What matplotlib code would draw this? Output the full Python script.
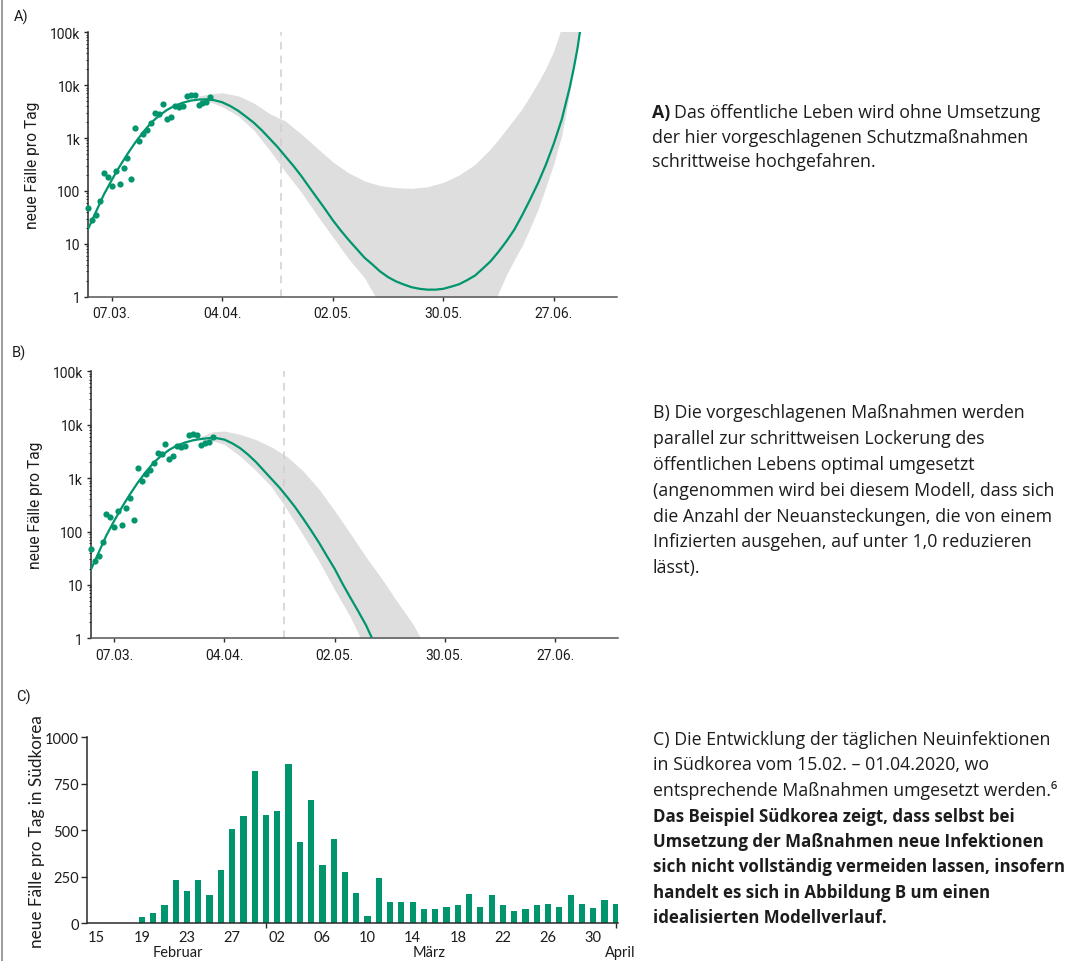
import matplotlib
matplotlib.use("Agg")
import matplotlib.pyplot as plt
from matplotlib.lines import Line2D
from matplotlib.ticker import FixedLocator, NullFormatter

# day 0 = 01.03.2020 (panels A and B)
date_ticks = [6, 34, 62, 90, 118]
date_labels = ["07.03.", "04.04.", "02.05.", "30.05.", "27.06."]
log_ticks = [1, 10, 100, 1000, 10000, 100000]
log_labels = ["1", "10", "100", "1k", "10k", "100k"]
lockdown_end = 49

obs_days = list(range(32))
obs_cases = [48, 28, 35, 64, 215, 183, 124, 238, 133, 272, 420, 166, 1557, 883,
             1180, 1426, 1909, 2952, 2826, 4315, 2274, 2553, 4067, 3784, 4067,
             6295, 6576, 6486, 4188, 4508, 4707, 5852]

fit_a_days = [0, 2, 4, 6, 8, 10, 12, 14, 16, 18, 20, 22, 24, 26, 28, 30, 32, 34,
              36, 38, 40, 42, 44, 46, 48, 50, 52, 54, 56, 58, 60, 62, 64, 66, 68,
              70, 72, 74, 76, 78, 80, 82, 84, 86, 88, 90, 92, 94, 96, 98, 100,
              102, 104, 106, 108, 110, 112, 114, 116, 118, 120, 122, 123, 124,
              124.6]
fit_a_cases = [19, 40, 85, 160, 290, 500, 830, 1300, 1950, 2650, 3400, 4100,
               4650, 5100, 5350, 5400, 5200, 4750, 4050, 3300, 2550, 1950, 1410,
               980, 680, 450, 300, 193, 119, 74, 46, 28, 18, 11.9, 8.1, 5.5, 4.1,
               3.0, 2.35, 1.95, 1.7, 1.51, 1.41, 1.36, 1.36, 1.41, 1.55, 1.72,
               2.05, 2.5, 3.4, 4.7, 7.1, 11.2, 18.6, 35, 69, 141, 316, 790, 2240,
               8900, 20000, 50000, 100000]

band_a_days = [28, 31, 34, 38, 42, 46, 50, 54, 58, 62, 66, 70, 74, 78, 82, 86, 90,
               94, 98, 102, 104, 106, 108, 110, 112, 114, 116, 118, 120, 122, 124,
               126]
band_a_high = [6200, 6900, 7200, 6300, 4600, 2900, 2100, 1200, 650, 355, 220, 155,
               126, 115, 112, 120, 145, 200, 316, 630, 950, 1480, 2300, 3630,
               6300, 11200, 21000, 44700, 126000, 400000, 1e6, 2.5e6]
band_a_low = [5200, 4800, 3900, 2630, 1410, 590, 230, 95, 35, 13.5, 5.2, 2.3, 0.7,
              0.1, 0.1, 0.1, 0.1, 0.1, 0.1, 0.5, 1.2, 2.6, 5.0, 9.3, 20, 45, 120,
              330, 1120, 7100, 56000, 400000]

fit_b_days = [0, 2, 4, 6, 8, 10, 12, 14, 16, 18, 20, 22, 24, 26, 28, 30, 32, 34,
              36, 38, 40, 42, 44, 46, 48, 50, 52, 54, 56, 58, 60, 62, 64, 66, 68,
              70, 72]
fit_b_cases = [19, 40, 85, 160, 290, 500, 830, 1300, 1950, 2650, 3400, 4100,
               4650, 5100, 5400, 5600, 5600, 5250, 4470, 3630, 2750, 2000, 1380,
               955, 660, 437, 282, 174, 105, 62, 35, 20, 10.5, 5.75, 3.2, 1.74,
               0.83]

band_b_days = [28, 31, 34, 38, 42, 46, 50, 54, 58, 62, 66, 70, 74, 78, 82, 86]
band_b_high = [6000, 7400, 7600, 6600, 5250, 3800, 2500, 1350, 620, 245, 91, 33,
               13, 4.7, 1.8, 0.5]
band_b_low = [5000, 5000, 4260, 2570, 1380, 680, 250, 85, 28, 8.1, 2.5, 0.6, 0.1,
              0.1, 0.1, 0.1]

# panel C: 15.02. - 01.04.2020, South Korea
kr_cases = [0, 0, 0, 0, 32, 56, 99, 231, 172, 231, 151, 289, 509, 575, 817,
            582, 604, 855, 435, 663, 312, 452, 274, 165, 38, 244, 113, 113, 113,
            75, 75, 90, 99, 158, 90, 151, 99, 68, 75, 99, 106, 90, 151, 106, 82,
            127, 106]
kr_day_labels = ["15", "19", "23", "27", "02", "06", "10", "14", "18", "22",
                 "26", "30"]
kr_months = ["Februar", "März", "April"]
kr_yticks = [0, 250, 500, 750, 1000]

text_a = ["Das öffentliche Leben wird ohne Umsetzung",
          "der hier vorgeschlagenen Schutzmaßnahmen",
          "schrittweise hochgefahren."]
text_b = ["B) Die vorgeschlagenen Maßnahmen werden",
          "parallel zur schrittweisen Lockerung des",
          "öffentlichen Lebens optimal umgesetzt",
          "(angenommen wird bei diesem Modell, dass sich",
          "die Anzahl der Neuansteckungen, die von einem",
          "Infizierten ausgehen, auf unter 1,0 reduzieren",
          "lässt)."]
text_c_regular = ["C) Die Entwicklung der täglichen Neuinfektionen",
                  "in Südkorea vom 15.02. – 01.04.2020, wo",
                  "entsprechende Maßnahmen umgesetzt werden.⁶"]
text_c_bold = ["Das Beispiel Südkorea zeigt, dass selbst bei",
               "Umsetzung der Maßnahmen neue Infektionen",
               "sich nicht vollständig vermeiden lassen, insofern",
               "handelt es sich in Abbildung B um einen",
               "idealisierten Modellverlauf."]

GREEN = "#00956d"
BAND = "#dedede"
INK = "#1c1c1c"
W, H = 1069, 962

fig = plt.figure(figsize=(W / 100, H / 100), dpi=100)


def rect(left, right, top, bottom):
    return [left / W, 1 - bottom / H, (right - left) / W, (bottom - top) / H]


def model_panel(box, fit_days, fit_cases, band_days, band_high, band_low):
    ax = fig.add_axes(rect(*box))
    ax.fill_between(band_days, band_low, band_high, color=BAND, lw=0, zorder=1)
    ax.axvline(lockdown_end, color="#cfcfcf", lw=1.1, ls=(0, (5, 4)), zorder=2)
    ax.plot(fit_days, fit_cases, color=GREEN, lw=1.6, zorder=3)
    ax.scatter(obs_days, obs_cases, s=20, color=GREEN, lw=0, zorder=4,
               clip_on=False)
    ax.set_yscale("log")
    ax.set_ylim(1, 1e5)
    ax.set_xlim(0, 134)
    ax.yaxis.set_major_locator(FixedLocator(log_ticks))
    ax.set_yticklabels(log_labels)
    ax.yaxis.set_minor_locator(FixedLocator(
        [m * 10 ** e for e in range(5) for m in range(2, 10)]))
    ax.yaxis.set_minor_formatter(NullFormatter())
    ax.set_xticks(date_ticks)
    ax.set_xticklabels(date_labels)
    for s in ("top", "right"):
        ax.spines[s].set_visible(False)
    ax.spines["left"].set_color("#2a2a2a")
    ax.spines["left"].set_linewidth(1.1)
    ax.spines["bottom"].set_color("#555555")
    ax.spines["bottom"].set_linewidth(1.1)
    ax.tick_params(axis="y", which="major", length=3, width=1, pad=2.5,
                   labelsize=10, colors="#2a2a2a")
    ax.tick_params(axis="y", which="minor", length=1.6, width=0.7,
                   colors="#2a2a2a")
    ax.tick_params(axis="x", length=3, width=1, pad=4, labelsize=10,
                   colors="#2a2a2a")
    for lab in ax.get_xticklabels() + ax.get_yticklabels():
        lab.set_fontfamily("Roboto")
        lab.set_color(INK)
    ax.text(-0.104, 0.5, "neue Fälle pro Tag", transform=ax.transAxes,
            rotation=90, ha="center", va="center", fontsize=11.2,
            family="Roboto", color=INK)
    return ax


model_panel((88, 617, 33.3, 297.7), fit_a_days, fit_a_cases,
            band_a_days, band_a_high, band_a_low)
model_panel((90.7, 618, 372.3, 639.3), fit_b_days, fit_b_cases,
            band_b_days, band_b_high, band_b_low)

# panel C
axc = fig.add_axes(rect(87.3, 618, 738.3, 924.3))
idx = list(range(len(kr_cases)))
axc.bar(idx, kr_cases, width=0.55, color=GREEN, zorder=2)
axc.set_xlim(-0.84, 46.2)
axc.set_ylim(0, 1000)
axc.set_yticks(kr_yticks)
axc.set_xticks([15, 46])
axc.set_xticklabels([])
axc.set_xticks(idx[::4][:len(kr_day_labels)], minor=True)
axc.set_xticklabels(kr_day_labels, minor=True)
for s in ("top", "right"):
    axc.spines[s].set_visible(False)
for s in ("left", "bottom"):
    axc.spines[s].set_color("#2a2a2a")
    axc.spines[s].set_linewidth(1.1)
axc.tick_params(axis="y", length=4, width=1, pad=2, labelsize=10.5,
                colors="#2a2a2a")
axc.tick_params(axis="x", which="major", length=3.5, width=1,
                colors="#2a2a2a")
axc.tick_params(axis="x", which="minor", length=0, pad=4.5, labelsize=10.5,
                colors="#2a2a2a")
for lab in axc.get_xticklabels(minor=True) + axc.get_yticklabels():
    lab.set_fontfamily("Lato")
    lab.set_color(INK)
for name, xpos in zip(kr_months, [7.2, 29.5, 46.4]):
    axc.annotate(name, (xpos, 0), xycoords=("data", "axes fraction"),
                 xytext=(0, -21), textcoords="offset points", ha="center",
                 va="center", fontsize=10.5, family="Lato", color=INK)
axc.text(-0.095, 0.5, "neue Fälle pro Tag in Südkorea", transform=axc.transAxes,
         rotation=90, ha="center", va="center", fontsize=12.3, family="Lato",
         color=INK)

# panel letters
for letter, (x, y) in zip(["A)", "B)", "C)"], [(14, 17), (12, 353), (16, 697)]):
    fig.text(x / W, 1 - y / H, letter, fontsize=10.5, family="Roboto",
             color=INK, va="center", ha="left")

# left frame line
fig.add_artist(Line2D([2 / W, 2 / W], [0, 1], color="#8a8a8a", lw=1.2))

# explanatory text
TXT = dict(family=["Open Sans", "DejaVu Sans"], color=INK, va="center",
           ha="left")
renderer = fig.canvas.get_renderer()
head = fig.text(651.5 / W, 1 - 113 / H, "A) ", fontweight="bold", fontsize=12.8,
                **TXT)
head_w = head.get_window_extent(renderer).width
for i, line in enumerate(text_a):
    x0 = 651.5 + (head_w if i == 0 else 0)
    fig.text(x0 / W, 1 - (113 + 24.7 * i) / H, line, fontsize=12.8, **TXT)
for i, line in enumerate(text_b):
    fig.text(652.7 / W, 1 - (413.3 + 25.8 * i) / H, line, fontsize=12.8, **TXT)
for i, line in enumerate(text_c_regular):
    fig.text(652.7 / W, 1 - (740 + 25.5 * i) / H, line, fontsize=12.8, **TXT)
for i, line in enumerate(text_c_bold):
    fig.text(652.7 / W, 1 - (816.7 + 25.4 * i) / H, line, fontweight="bold",
             fontsize=12.2, **TXT)

fig.savefig("out.png", dpi=100)
